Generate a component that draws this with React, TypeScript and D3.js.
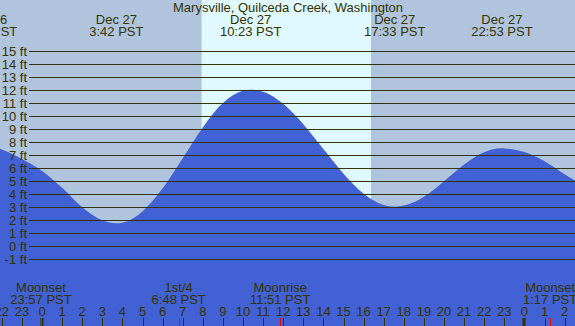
import React from "react";
import * as d3 from "d3";

const W = 575;
const H = 326;

const title = "Marysville, Quilceda Creek, Washington";

// tide curve (hours since midnight Dec 27, feet)
const tideHours = [-3, -2, -1, 0, 1, 2, 3, 3.72, 4, 5, 6, 7, 8, 9, 10, 10.38, 11, 12, 13, 14, 15, 16, 17, 17.55, 18, 19, 20, 21, 22, 22.88, 23, 24, 25, 26, 27];
const tideFeet = [7.85, 7.45, 6.72, 5.8, 4.5, 3.0, 2.0, 1.77, 1.82, 2.68, 4.46, 6.78, 9.14, 11.02, 11.97, 12.05, 11.89, 10.96, 9.39, 7.48, 5.59, 4.05, 3.18, 3.05, 3.13, 3.81, 5.01, 6.3, 7.24, 7.54, 7.53, 7.25, 6.55, 5.55, 4.6];

// extremes labels
const extremeHours = [-2.76, 3.7, 10.38, 17.55, 22.88];
const extremeDates = ["Dec 26", "Dec 27", "Dec 27", "Dec 27", "Dec 27"];
const extremeTimes = ["21:14 PST", "3:42 PST", "10:23 PST", "17:33 PST", "22:53 PST"];

// moon events
const moonHours = [-0.05, 6.8, 11.85, 25.28];
const moonNames = ["Moonset", "1st/4", "Moonrise", "Moonset"];
const moonTimes = ["23:57 PST", "6:48 PST", "11:51 PST", "1:17 PST"];

// daylight
const sunriseHour = 7.94;
const sunsetHour = 16.37;

// axes
const feetTicks = [-1, 0, 1, 2, 3, 4, 5, 6, 7, 8, 9, 10, 11, 12, 13, 14, 15];
const hourTicks = d3.range(-2, 27);
const midnightHours = [0, 24];

const NIGHT = "#b0c4de";
const DAY = "#e0f8ff";
const WATER = "#4161d5";
const INK = "#333300";
const FONT = "'Liberation Sans', Arial, sans-serif";

export default function App() {
  const x = d3.scaleLinear().domain([0, 24]).range([42, 524.4]);
  const y = d3.scaleLinear().domain([0, 15]).range([246.3, 51.3]);

  const pts: [number, number][] = tideHours.map((h, i) => [h, tideFeet[i]]);
  const area = d3
    .area<[number, number]>()
    .x((d) => x(d[0]))
    .y0(H)
    .y1((d) => y(d[1]))
    .curve(d3.curveMonotoneX);

  return (
    <svg
      width={W}
      height={H}
      style={{ position: "fixed", left: 0, top: 0, display: "block" }}
      fontFamily={FONT}
      fontSize={13}
    >
      <rect x={0} y={0} width={W} height={H} fill={NIGHT} />
      <rect x={x(sunriseHour)} y={0} width={x(sunsetHour) - x(sunriseHour)} height={H} fill={DAY} />
      <path d={area(pts) || ""} fill={WATER} />

      {feetTicks.map((f) => (
        <g key={f}>
          <line x1={29} x2={W} y1={Math.round(y(f)) + 0.5} y2={Math.round(y(f)) + 0.5} stroke={INK} strokeWidth={1} />
          <text x={27} y={y(f) + 4.5} textAnchor="end" fill={INK}>
            {`${f} ft`}
          </text>
        </g>
      ))}

      <text x={288} y={12} textAnchor="middle" fill={INK}>
        {title}
      </text>
      {extremeHours.map((h, i) => (
        <g key={i}>
          <text x={x(h)} y={24} textAnchor="middle" fill={INK}>
            {extremeDates[i]}
          </text>
          <text x={x(h)} y={36} textAnchor="middle" fill={INK}>
            {extremeTimes[i]}
          </text>
        </g>
      ))}

      {moonHours.map((h, i) => (
        <g key={i}>
          <text x={x(h)} y={292} textAnchor="middle" fill={INK}>
            {moonNames[i]}
          </text>
          <text x={x(h)} y={304} textAnchor="middle" fill={INK}>
            {moonTimes[i]}
          </text>
        </g>
      ))}

      {hourTicks.map((h) => (
        <g key={h}>
          <text x={x(h)} y={316} textAnchor="middle" fill={INK}>
            {String(((h % 24) + 24) % 24)}
          </text>
          <line x1={Math.round(x(h)) + 0.5} x2={Math.round(x(h)) + 0.5} y1={318} y2={H} stroke={INK} strokeWidth={1} />
        </g>
      ))}
      {midnightHours.map((h) => (
        <rect key={h} x={Math.round(x(h)) - 1.5} y={318} width={3} height={H - 318} fill={INK} />
      ))}
      {moonHours.map((h, i) => (
        <line key={i} x1={Math.round(x(h)) + 0.5} x2={Math.round(x(h)) + 0.5} y1={318} y2={H} stroke="#ff0000" strokeWidth={1} />
      ))}
    </svg>
  );
}
